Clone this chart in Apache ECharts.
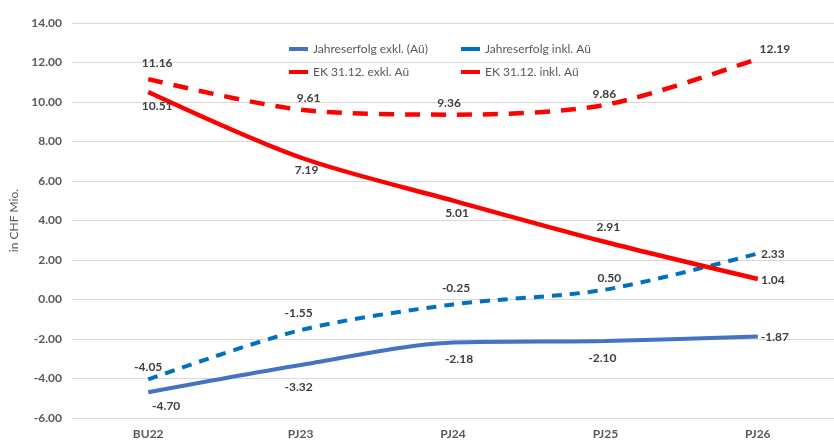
<!DOCTYPE html>
<html>
<head>
<meta charset="utf-8">
<script src="https://cdn.jsdelivr.net/npm/echarts@6/dist/echarts.min.js"></script>
<style>
    html, body { margin: 0; padding: 0; background: #fff; }
    #chart { width: 834px; height: 440px; }
</style>
</head>
<body>
<div id="chart"></div>
<script>
/* ===================== 数据 ===================== */
var categories = ['BU22', 'PJ23', 'PJ24', 'PJ25', 'PJ26'];
var jeExkl = [-4.70, -3.32, -2.18, -2.10, -1.87];
var jeInkl = [-4.05, -1.55, -0.25, 0.50, 2.33];
var ekExkl = [10.51, 7.19, 5.01, 2.91, 1.04];
var ekInkl = [11.16, 9.61, 9.36, 9.86, 12.19];
var seriesNames = ['Jahreserfolg exkl. (Aü)', 'Jahreserfolg inkl. Aü', 'EK 31.12. exkl. Aü', 'EK 31.12. inkl. Aü'];
/* ===================== end ===================== */

/* ===================== 标签偏移 (px, relative to point) ===================== */
var labelShift = {
    jeExkl: [[18, 14], [-2, 22], [6, 17], [-3, 17], [17, 1]],
    jeInkl: [[0, -12], [-2, -17], [3, -16], [4, -12], [15, 1]],
    ekExkl: [[9, 14], [6, 13], [4, 13], [3, -15], [15, 1]],
    ekInkl: [[9, -16], [8, -12], [-4, -12], [-1, -11], [17, -10]]
};
/* ===================== end ===================== */

var font = 'Lato, "Open Sans", sans-serif';

function buildData(values, shifts) {
    return values.map(function (v, i) {
        return {
            value: v,
            label: { offset: shifts[i] }
        };
    });
}

function lineSeries(name, values, shifts, color, width, dash) {
    return {
        name: name,
        type: 'line',
        smooth: 0.3,
        symbol: 'circle',
        symbolSize: 0.1,
        showSymbol: true,
        itemStyle: { color: color },
        lineStyle: { color: color, width: width, type: dash || 'solid', cap: 'butt' },
        label: {
            show: true,
            position: 'inside',
            color: '#404040',
            fontWeight: 'bold',
            fontSize: 12,
            fontFamily: font,
            formatter: function (p) { return p.value.toFixed(2); }
        },
        emphasis: { disabled: true },
        data: buildData(values, shifts)
    };
}

var chart = echarts.init(document.getElementById('chart'));

var legendText = { color: '#595959', fontSize: 12, fontFamily: font };

// 图例: 两列, 只画线段不画圆点
function legendCol(left, names) {
    return {
        orient: 'vertical',
        left: left,
        top: 38,
        icon: 'rect',
        itemWidth: 19,
        itemHeight: 4,
        itemGap: 11,
        textStyle: legendText,
        data: names
    };
}

chart.setOption({
    animation: false,
    grid: { left: 65, right: -11, top: 23, bottom: 22 },
    legend: [
        legendCol(284, [seriesNames[0], seriesNames[2]]),
        legendCol(456, [seriesNames[1], seriesNames[3]])
    ],
    xAxis: {
        type: 'category',
        data: categories,
        boundaryGap: true,
        axisLine: { show: false },
        axisTick: { show: false },
        axisLabel: {
            color: '#595959',
            fontWeight: 'bold',
            fontSize: 12,
            fontFamily: font,
            margin: 10
        }
    },
    yAxis: {
        type: 'value',
        min: -6,
        max: 14,
        interval: 2,
        name: 'in CHF Mio.',
        nameLocation: 'middle',
        nameGap: 52,
        nameTextStyle: { color: '#595959', fontSize: 12, fontFamily: font },
        axisLine: { show: false },
        axisTick: { show: false },
        axisLabel: {
            color: '#595959',
            fontWeight: 'bold',
            fontSize: 12,
            fontFamily: font,
            margin: 10,
            formatter: function (v) { return v.toFixed(2); }
        },
        splitLine: { lineStyle: { color: '#d9d9d9', width: 1 } }
    },
    series: [
        lineSeries(seriesNames[0], jeExkl, labelShift.jeExkl, '#4472c4', 4),
        lineSeries(seriesNames[1], jeInkl, labelShift.jeInkl, '#0070c0', 4, [10, 8]),
        lineSeries(seriesNames[2], ekExkl, labelShift.ekExkl, '#ff0000', 4.5),
        lineSeries(seriesNames[3], ekInkl, labelShift.ekInkl, '#ff0000', 4.5, [15, 11])
    ]
});
</script>
</body>
</html>
